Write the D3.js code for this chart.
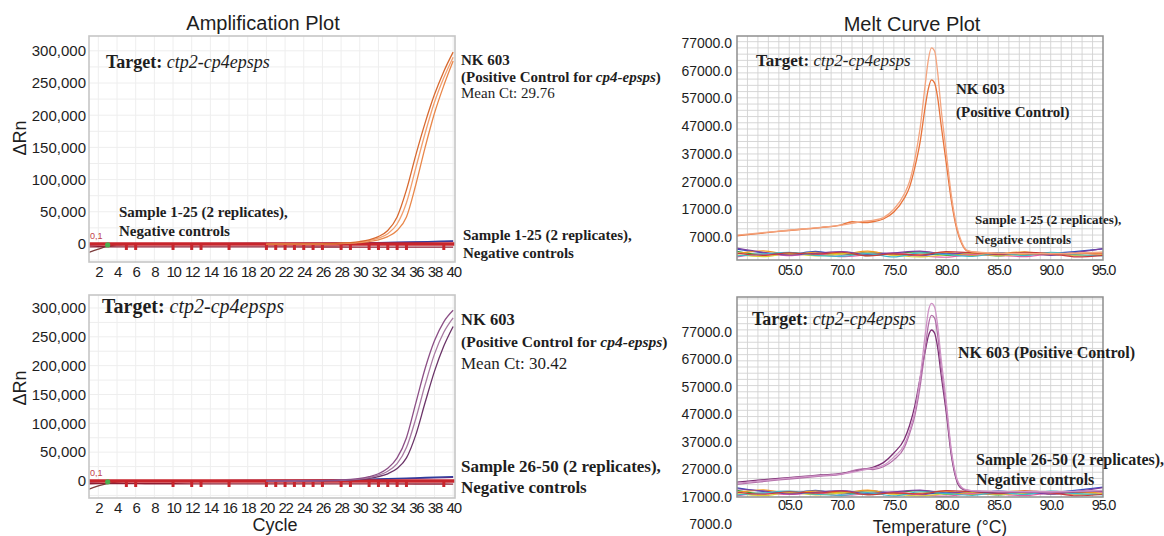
<!DOCTYPE html>
<html>
<head>
<meta charset="utf-8">
<title>Amplification and Melt Curve Plots</title>
<script src="https://cdn.jsdelivr.net/npm/d3@7/dist/d3.min.js"></script>
<style>
  body { margin: 0; background: #fff; }
  svg { display: block; }
</style>
</head>
<body>
<div id="chart"></div>
<script>
// ---------- amplification plots (x = cycle, y = delta Rn) ----------
var ampTicks = [2,4,6,8,10,12,14,16,18,20,22,24,26,28,30,32,34,36,38,40];
var ampYTicks = [0,50000,100000,150000,200000,250000,300000];
var markerCycles = [5,6,10,12,13,16,20,21,22,23,24,25,26,28,29,31,32,33,34,35,39];

var posCycles = [20,21,22,23,24,25,26,27,28,29,30,31,32,33,34,35,36,37,38,39,40];
// NK 603, top plot (three replicates)
var topPosA = [-300,-200,-200,-100,0,100,300,600,1200,2200,3800,6500,11500,21000,42000,84000,138000,188000,232000,268000,298000];
var topPosB = [-400,-300,-200,-200,-100,0,200,400,900,1700,3000,5200,9000,16000,31000,64000,118000,172000,220000,258000,290000];
var topPosC = [-500,-400,-300,-300,-200,-100,100,300,600,1200,2200,3800,6500,11500,21000,42000,92000,150000,203000,246000,284000];
// NK 603, bottom plot
var botPosD = [-200,-100,0,100,200,400,700,1100,1700,2800,4500,7500,12500,22000,40000,75000,135000,195000,243000,276000,296000];
var botPosE = [-300,-200,-100,0,100,300,500,800,1300,2200,3600,6000,10000,17000,30000,58000,108000,167000,220000,258000,283000];
var botPosF = [-400,-300,-200,-100,0,200,400,600,1000,1700,2800,4600,7600,12500,21500,40000,80000,136000,190000,234000,268000];

// negative controls near the baseline
var negCycles = [1,2,3,4,6,8,10,14,18,22,26,30,33,36,38,40];
var topNegBrown  = [-13000,-8000,-3500,-1500,-600,-400,-300,-300,-300,-200,-200,-100,0,100,200,300];
var topNegBlue   = [-1500,-900,-400,0,300,400,500,600,700,800,1000,1500,2400,3300,4000,4800];
var topNegPurple = [-1000,-600,-300,100,200,300,400,400,500,600,800,1200,1900,2700,3300,3900];
var topNegRed    = [-4500,-4300,-4300,-4400,-4400,-4500,-4500,-4600,-4600,-4600,-4700,-4800,-4800,-4900,-5000,-5000];
var botNegBrown  = [-14000,-8500,-4000,-1800,-700,-400,-300,-300,-300,-200,-200,-100,100,300,500,700];
var botNegBlue   = [-1500,-900,-400,0,300,500,600,700,900,1100,1500,2500,4000,5500,6500,7500];
var botNegPurple = [-1000,-600,-300,100,300,400,500,600,700,900,1200,2000,3200,4500,5400,6200];
var botNegRed    = [-4800,-4600,-4600,-4700,-4700,-4800,-4800,-4900,-4900,-5000,-5000,-5100,-5100,-5200,-5200,-5300];

// ---------- melt curve plots (x = temperature, y = derivative) ----------
var meltTicks = [65,70,75,80,85,90,95];
var meltTickLabels = ["05.0","70.0","75.0","80.0","85.0","90.0","95.0"];
var meltYTicks = [7000,17000,27000,37000,47000,57000,67000,77000];

var meltTemps = [60,62,64,66,68,70,71,72,73,74,75,76,76.5,77,77.5,78,78.3,78.6,78.9,79.2,79.5,80,80.5,81,81.5,82,83,85,90,95];
var meltTop1 = [7700,8400,9100,9800,10500,11300,11900,12600,13000,14000,17000,22500,27000,35000,46000,62000,71000,75200,74000,66000,54000,38000,22000,11000,5000,2200,1500,1200,1000,1500];
var meltTop2 = [7400,8200,9000,9700,10400,11400,12500,12200,12500,13500,16000,21000,25000,32000,41000,54000,60500,63700,62500,57000,48000,34000,20000,10000,4500,2000,1400,1100,900,1300];
var meltBot1 = [22000,22800,23500,24200,24800,25400,26000,26800,27500,28500,31500,36000,41000,48000,60000,76000,84500,87400,86000,79000,68000,52000,34000,24000,20500,19600,19200,19000,18900,19400];
var meltBot2 = [21600,22400,23200,23900,24600,25200,26500,27200,27000,28000,30500,35000,40000,46500,57000,71000,79500,83000,82000,75500,65000,50000,33000,23500,20200,19500,19100,18900,18800,19200];
var meltBot3 = [22400,23100,23800,24400,25000,25600,26300,27000,27800,29500,33000,38000,43000,50000,60000,70000,75500,77700,76500,71000,62000,48000,32000,23000,20000,19400,19000,18800,18700,19100];

var negTemps = [60,62.5,65,67.5,70,72.5,75,77.5,80,82.5,85,87.5,90,92.5,95];
var mTopBlue   = [2600,1300,700,1800,500,1500,800,300,1200,500,1400,600,1000,1800,2700];
var mTopGreen  = [1800,600,1400,400,1200,300,1000,1600,400,900,200,1100,600,900,1500];
var mTopOrange = [1000,2000,700,1500,900,1900,500,800,1500,300,1000,1600,500,1200,800];
var mTopPink   = [-200,800,300,1000,-100,600,1200,200,-300,700,400,-100,800,200,1000];
var mTopYellow = [600,-100,1000,200,800,1300,400,-200,600,1100,300,800,1300,400,600];
var mTopPurple = [3000,1500,500,1100,1700,700,1300,1900,800,1400,600,1200,400,1500,2800];
var mTopCyan   = [200,900,1500,400,0,1000,-200,1300,700,0,1200,300,1500,600,200];
var mTopRed    = [1200,400,1300,800,1500,200,900,500,1700,1300,800,1500,1000,-200,400];
var mBotBlue   = [20300,19000,18300,19400,18100,19200,18400,17900,18800,18100,19100,18300,18600,19500,20600];
var mBotGreen  = [19400,18200,19000,18000,18800,17900,18600,19300,18000,18500,17800,18700,18200,18500,19100];
var mBotOrange = [18600,19600,18300,19100,18500,19500,18100,18400,19100,17900,18600,19200,18100,18800,18400];
var mBotPink   = [17400,18400,17900,18600,17500,18200,18800,17800,17300,18300,18000,17500,18400,17800,18600];
var mBotYellow = [18200,17500,18600,17800,18400,18900,18000,17400,18200,18700,17900,18400,18900,18000,18200];
var mBotPurple = [20000,19200,18100,18700,19300,18300,18900,19500,18400,19000,18200,18800,18000,19100,20400];
var mBotCyan   = [17800,18500,19100,18000,17600,18600,17400,18900,18300,17600,18800,17900,19100,18200,17800];
var mBotRed    = [18800,18000,18900,18400,19100,17800,18500,18100,19300,18900,18400,19100,18600,17400,18000];

var negMeltColors = ["#2f4fc0","#3aa03a","#f39a1e","#e35fa3","#d9cf3a","#7d3fa0","#3fb8c8","#c83c3c"];

// ---------- drawing ----------
var sans = "'Liberation Sans', Arial, Helvetica, sans-serif";
var serif = "'Liberation Serif', 'Times New Roman', Times, serif";

var svg = d3.select("#chart").append("svg")
	.attr("width", 1164)
	.attr("height", 536);

// text made of bold / italic runs
function label(parts, x, y, size) {
	var t = svg.append("text")
		.attr("x", x)
		.attr("y", y)
		.attr("font-family", serif)
		.attr("font-size", size)
		.attr("fill", "#1e1e1e");
	parts.forEach(function(p) {
		t.append("tspan")
			.attr("font-weight", p[1].indexOf("b") > -1 ? "bold" : "normal")
			.attr("font-style", p[1].indexOf("i") > -1 ? "italic" : "normal")
			.text(p[0]);
	});
}

function plainText(str, x, y, size, rotate) {
	var t = svg.append("text")
		.attr("font-family", sans)
		.attr("font-size", size)
		.attr("fill", "#1e1e1e")
		.attr("text-anchor", "middle")
		.text(str);
	if (rotate) t.attr("transform", "translate(" + x + "," + y + ") rotate(-90)");
	else t.attr("x", x).attr("y", y);
}

function pathOf(xs, ys, x, y) {
	return d3.line().curve(d3.curveMonotoneX)(xs.map(function(c, i){ return [x(c), y(ys[i])]; }));
}

function ampPanel(p) {
	var left = 89, right = 455;
	var x = d3.scaleLinear().domain([1, 40.2]).range([left, right]);
	var y = d3.scaleLinear().domain(p.yDomain).range([p.bottom, p.top]);
	var g = svg.append("g");

	// faint grid
	g.append("g").selectAll("line").data(ampTicks).join("line")
		.attr("x1", function(d){ return x(d); }).attr("x2", function(d){ return x(d); })
		.attr("y1", p.top).attr("y2", p.bottom)
		.attr("stroke", "#eeeeee");
	g.append("g").selectAll("line").data(d3.range(-25000, p.yDomain[1], 25000)).join("line")
		.attr("x1", left).attr("x2", right)
		.attr("y1", function(d){ return y(d); }).attr("y2", function(d){ return y(d); })
		.attr("stroke", "#eeeeee");

	// negative controls
	p.negs.forEach(function(n) {
		g.append("path").attr("d", pathOf(negCycles, n[0], x, y))
			.attr("fill", "none").attr("stroke", n[1]).attr("stroke-width", 1.3);
	});

	// threshold line with its markers
	g.append("line")
		.attr("x1", left).attr("x2", right)
		.attr("y1", y(0)).attr("y2", y(0))
		.attr("stroke", "#c8252c").attr("stroke-width", 3.5);
	g.selectAll(".mk").data(markerCycles).join("rect")
		.attr("x", function(d){ return x(d) - 1.5; })
		.attr("y", y(0))
		.attr("width", 3).attr("height", 6)
		.attr("fill", "#c8252c");
	g.append("text").attr("x", left + 1).attr("y", y(0) - 5)
		.attr("font-family", sans).attr("font-size", 9).attr("fill", "#c0404a")
		.text("0,1");
	g.append("circle").attr("cx", x(3)).attr("cy", y(-1500)).attr("r", 2.6).attr("fill", "#4caf50");

	// positive control curves
	p.pos.forEach(function(s) {
		g.append("path").attr("d", pathOf(posCycles, s[0], x, y))
			.attr("fill", "none").attr("stroke", s[1]).attr("stroke-width", 1.3);
	});

	// frame
	g.append("rect").attr("x", left).attr("y", p.top)
		.attr("width", right - left).attr("height", p.bottom - p.top)
		.attr("fill", "none").attr("stroke", "#c6c6c6").attr("stroke-width", 1.6);

	// axes
	var ya = g.append("g").attr("transform", "translate(" + left + ",0)")
		.call(d3.axisLeft(y).tickValues(ampYTicks).tickSize(0).tickPadding(3).tickFormat(d3.format(",")));
	ya.select(".domain").remove();
	ya.attr("font-family", sans).attr("font-size", 15);
	ya.selectAll("text").attr("fill", "#1e1e1e");

	var xa = g.append("g").attr("transform", "translate(0," + p.bottom + ")")
		.call(d3.axisBottom(x).tickValues(ampTicks).tickSize(0).tickPadding(4));
	xa.select(".domain").remove();
	xa.attr("font-family", sans).attr("font-size", 15);
	xa.selectAll("text").attr("fill", "#1e1e1e").attr("letter-spacing", "-1.2px");
}

function meltPanel(p) {
	var left = 737, right = 1103;
	var x = d3.scaleLinear().domain([60, 95]).range([left, right]);
	var y = d3.scaleLinear().domain(p.yDomain).range([p.bottom, p.top]);
	var g = svg.append("g");

	// graph-paper grid
	g.append("g").selectAll("line").data(d3.range(61, 95, 1)).join("line")
		.attr("x1", function(d){ return x(d); }).attr("x2", function(d){ return x(d); })
		.attr("y1", p.top).attr("y2", p.bottom)
		.attr("stroke", "#d2d2d2").attr("stroke-width", 0.9);
	g.append("g").selectAll("line").data(d3.range(p.yDomain[0] + 2250, p.yDomain[1], 2250)).join("line")
		.attr("x1", left).attr("x2", right)
		.attr("y1", function(d){ return y(d); }).attr("y2", function(d){ return y(d); })
		.attr("stroke", "#d2d2d2").attr("stroke-width", 0.9);

	p.negs.forEach(function(n, i) {
		g.append("path").attr("d", pathOf(negTemps, n, x, y))
			.attr("fill", "none").attr("stroke", negMeltColors[i]).attr("stroke-width", 1.2);
	});
	p.pos.forEach(function(s) {
		g.append("path").attr("d", pathOf(meltTemps, s[0], x, y))
			.attr("fill", "none").attr("stroke", s[1]).attr("stroke-width", 1.3);
	});

	g.append("rect").attr("x", left).attr("y", p.top)
		.attr("width", right - left).attr("height", p.bottom - p.top)
		.attr("fill", "none").attr("stroke", "#8e8e8e").attr("stroke-width", 1.5);

	var ya = g.append("g").attr("transform", "translate(" + left + ",0)")
		.call(d3.axisLeft(y).tickValues(meltYTicks).tickSize(0).tickPadding(5).tickFormat(d3.format(".1f")));
	ya.select(".domain").remove();
	ya.attr("font-family", sans).attr("font-size", 14);
	ya.selectAll("text").attr("fill", "#1e1e1e");

	var xa = g.append("g").attr("transform", "translate(0," + p.bottom + ")")
		.call(d3.axisBottom(x).tickValues(meltTicks).tickSize(0).tickPadding(p.tickPad)
			.tickFormat(function(d, i){ return meltTickLabels[i]; }));
	xa.select(".domain").remove();
	xa.attr("font-family", sans).attr("font-size", 14.5);
	xa.selectAll("text").attr("fill", "#1e1e1e").attr("letter-spacing", "-1.2px");
}

ampPanel({
	top: 36, bottom: 262, yDomain: [-28000, 323000],
	negs: [[topNegRed, "#8e1c32"], [topNegBrown, "#7b3b3b"], [topNegPurple, "#6a2c85"], [topNegBlue, "#2e3d9c"]],
	pos: [[topPosC, "#e9874a"], [topPosB, "#f2a070"], [topPosA, "#d8692f"]]
});
ampPanel({
	top: 295, bottom: 498, yDomain: [-29500, 322500],
	negs: [[botNegRed, "#8e1c32"], [botNegBrown, "#7b3b3b"], [botNegPurple, "#6a2c85"], [botNegBlue, "#2e3d9c"]],
	pos: [[botPosF, "#6b3468"], [botPosE, "#a87aa2"], [botPosD, "#8c4f86"]]
});
meltPanel({
	top: 36, bottom: 260, yDomain: [-1300, 79500], tickPad: 5,
	negs: [mTopBlue, mTopGreen, mTopOrange, mTopPink, mTopYellow, mTopPurple, mTopCyan, mTopRed],
	pos: [[meltTop2, "#e8733a"], [meltTop1, "#f4a57f"]]
});
meltPanel({
	top: 297, bottom: 497, yDomain: [17000, 89700], tickPad: 3,
	negs: [mBotBlue, mBotGreen, mBotOrange, mBotPink, mBotYellow, mBotPurple, mBotCyan, mBotRed],
	pos: [[meltBot3, "#7c2f74"], [meltBot2, "#b26ea8"], [meltBot1, "#cf93c6"]]
});

// titles and axis names
plainText("Amplification Plot", 263, 30, 20);
plainText("Melt Curve Plot", 912, 31, 20);
plainText("Cycle", 275, 531, 18);
plainText("Temperature (\u00B0C)", 940, 532.5, 17.5);
plainText("\u0394Rn", 26, 138, 18, true);
plainText("\u0394Rn", 26, 388, 18, true);

// annotations - top amplification
label([["Target: ", "b"], ["ctp2-cp4epsps", "i"]], 106, 68, 18);
label([["Sample 1-25 (2 replicates),", "b"]], 119, 217, 15);
label([["Negative controls", "b"]], 119, 236, 15);
label([["NK 603", "b"]], 461, 65, 15);
label([["(Positive Control for ", "b"], ["cp4-epsps", "bi"], [")", "b"]], 461, 82, 15);
label([["Mean Ct: 29.76", "r"]], 461, 98, 15);
label([["Sample 1-25 (2 replicates),", "b"]], 463, 240, 15);
label([["Negative controls", "b"]], 463, 258, 15);

// annotations - bottom amplification
label([["Target: ", "b"], ["ctp2-cp4epsps", "i"]], 102, 313, 20);
label([["NK 603", "b"]], 461, 325, 16.5);
label([["(Positive Control for ", "b"], ["cp4-epsps", "bi"], [")", "b"]], 461, 347, 15.5);
label([["Mean Ct: 30.42", "r"]], 461, 369, 17);
label([["Sample 26-50 (2 replicates),", "b"]], 461, 472, 17);
label([["Negative controls", "b"]], 461, 493, 17);

// annotations - melt curves
label([["Target: ", "b"], ["ctp2-cp4epsps", "i"]], 756, 66, 17);
label([["NK 603", "b"]], 956, 94, 15);
label([["(Positive Control)", "b"]], 956, 117, 15);
label([["Sample 1-25 (2 replicates),", "b"]], 975, 224, 13);
label([["Negative controls", "b"]], 975, 244, 13);

label([["Target: ", "b"], ["ctp2-cp4epsps", "i"]], 752, 325, 18);
label([["NK 603 (Positive Control)", "b"]], 958, 358, 16);
label([["Sample 26-50 (2 replicates),", "b"]], 976, 465, 16);
label([["Negative controls", "b"]], 976, 485, 16);
</script>
</body>
</html>
